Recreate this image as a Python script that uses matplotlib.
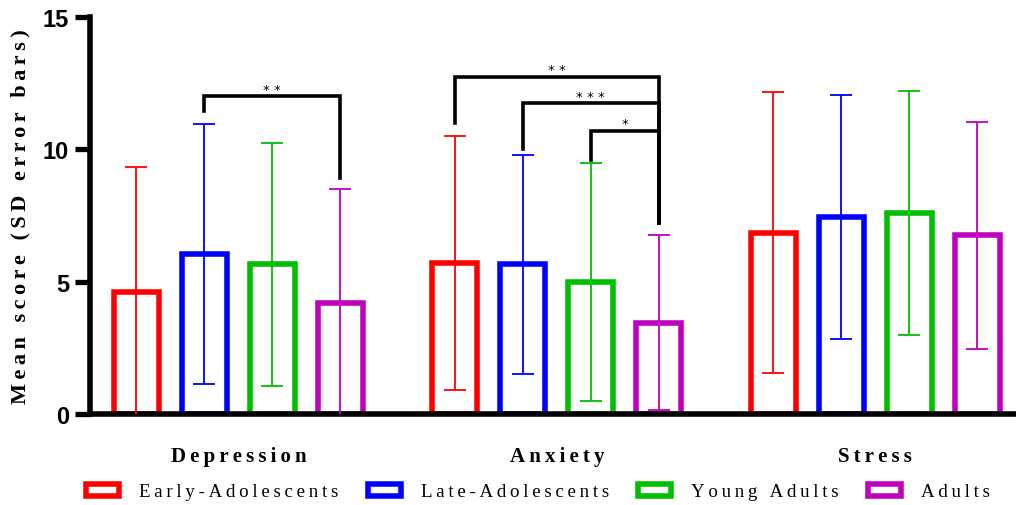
import numpy as np
import matplotlib
matplotlib.use('Agg')
import matplotlib.pyplot as plt
from matplotlib.patches import Patch

# mean scores and SDs per scale, one list per age group
scales = ['Depression', 'Anxiety', 'Stress']
groups = ['Early-Adolescents', 'Late-Adolescents', 'Young Adults', 'Adults']
colors = ['#ff0000', '#0000ff', '#00bf00', '#bf00bf']

early_mean = [4.6, 5.7, 6.85]
late_mean = [6.05, 5.65, 7.45]
young_mean = [5.65, 5.0, 7.6]
adult_mean = [4.2, 3.45, 6.75]

early_sd = [4.75, 4.8, 5.3]
late_sd = [4.9, 4.15, 4.6]
young_sd = [4.6, 4.5, 4.6]
adult_sd = [4.3, 3.3, 4.3]

# significance brackets: (scale, group from, group to, bracket height, left drop, right drop, stars)
brackets = [
    (0, 1, 3, 12.0, 11.45, 8.9, '**'),
    (1, 0, 3, 12.75, 11.0, 7.2, '**'),
    (1, 1, 3, 11.75, 10.0, 7.2, '***'),
    (1, 2, 3, 10.7, 9.6, 7.2, '*'),
]

means = [early_mean, late_mean, young_mean, adult_mean]
sds = [early_sd, late_sd, young_sd, adult_sd]

group_gap = 4.68
width = 0.66


def spaced(s, sep='\u2009'):
    return sep.join(s)


fig = plt.figure(figsize=(10.16, 5.06), dpi=100)
ax = fig.add_axes([0.0886, 0.1798, 0.9114, 0.7846])

for i in range(4):
    xs = np.arange(3) * group_gap + i
    ax.bar(xs, means[i], width=width, facecolor='white', edgecolor=colors[i],
           linewidth=4.0, zorder=2)
    ax.errorbar(xs, means[i], yerr=sds[i], fmt='none', ecolor=colors[i],
                elinewidth=1.3, capsize=8, capthick=1.3, zorder=3)

for s, g0, g1, h, d0, d1, stars in brackets:
    x0 = s * group_gap + g0
    x1 = s * group_gap + g1
    ax.plot([x0, x0, x1, x1], [d0, h, h, d1], color='black', lw=2.6,
            solid_joinstyle='miter', zorder=4, clip_on=False)
    ax.text((x0 + x1) / 2, h + 0.02, spaced(stars, ' '), ha='center', va='bottom',
            fontsize=9.5, family='DejaVu Sans', zorder=5)

ax.set_xlim(-0.68, 12.93)
ax.set_ylim(0, 15)
ax.set_yticks([0, 5, 10, 15])
ax.set_yticklabels(['0', '5', '10', '15'], fontsize=17, fontweight='bold',
                   family='Liberation Sans')
ax.tick_params(axis='y', length=11, width=3.8, pad=4)
ax.set_xticks(np.arange(3) * group_gap + 1.5)
ax.set_xticklabels([spaced(s) for s in scales], fontsize=15, fontweight='bold',
                   family='Liberation Serif')
ax.tick_params(axis='x', length=0, pad=23)
for side in ['top', 'right']:
    ax.spines[side].set_visible(False)
for side in ['left', 'bottom']:
    ax.spines[side].set_linewidth(4.0)
ax.set_ylabel(spaced('Mean score (SD error bars)'), fontsize=16, fontweight='bold',
              family='Liberation Serif', labelpad=9)

handles = [Patch(facecolor='white', edgecolor=c, linewidth=4) for c in colors]
fig.legend(handles, [spaced(g) for g in groups], loc='center left',
           bbox_to_anchor=(0.085, 0.026), ncol=4, frameon=False,
           prop={'family': 'Liberation Serif', 'size': 13.6},
           handlelength=1.75, handleheight=0.6, columnspacing=1.55, handletextpad=1.05,
           borderaxespad=0, borderpad=0)

fig.savefig('out.png', dpi=100)
